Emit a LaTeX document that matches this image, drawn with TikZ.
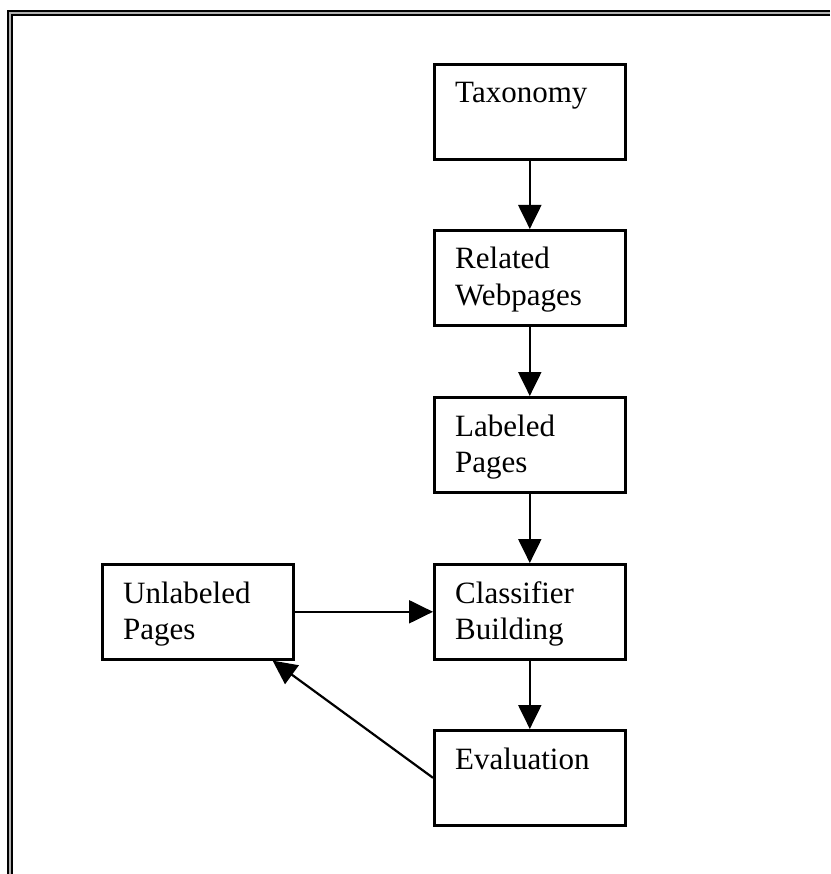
\documentclass[tikz,border=0pt]{standalone}
\usepackage{fontspec}
\setmainfont{Liberation Serif}
\usetikzlibrary{arrows.meta,calc}
% two stacked lines whose baseline is that of the first line
\newcommand{\stacklines}[2]{\vtop{\hbox{#1}\hbox{#2}}}
\begin{document}
\begin{tikzpicture}[x=1pt,y=-1pt,
  stagebox/.style={draw=black,line width=2.6pt,rectangle,inner sep=0pt,
    minimum width=191pt,minimum height=95pt,anchor=north west},
  stagetext/.style={anchor=base west,inner sep=0pt,
    font=\fontsize{31}{36}\selectfont},
  flow/.style={line width=2.2pt,-{Triangle[length=24pt,width=23pt]}},
  frameline/.style={line width=2.2pt}]
\useasboundingbox (0,0) rectangle (830,874);
% framing rule on the top and left sides
\draw[frameline,black] (830,11) -- (8,11) -- (8,874);
\draw[frameline,gray!60] (830,13) -- (10,13) -- (10,874);
\draw[frameline,black] (830,15.2) -- (12.2,15.2) -- (12.2,874);
% stages
\node[stagebox] (tax) at (433,63) {};
\node[stagebox] (rel) at (433,229) {};
\node[stagebox] (lab) at (433,396) {};
\node[stagebox] (cls) at (433,563) {};
\node[stagebox] (eva) at (433,729) {};
\node[stagebox] (unl) at (101,563) {};
\node[stagetext] (taxt) at (455,103) {Taxonomy};
\node[stagetext] (relt) at (455,269) {\stacklines{Related}{Webpages}};
\node[stagetext] (labt) at (455,436) {\stacklines{Labeled}{Pages}};
\node[stagetext] (clst) at (455,603) {\stacklines{Classifier}{Building}};
\node[stagetext] (evat) at (455,769) {Evaluation};
\node[stagetext] (unlt) at (123,603) {\stacklines{Unlabeled}{Pages}};
% connectors
\draw[flow] (tax.south) -- (rel.north);
\draw[flow] (rel.south) -- (lab.north);
\draw[flow] (lab.south) -- (cls.north);
\draw[flow] (cls.south) -- (eva.north);
\draw[flow] (unl.east) -- (cls.west);
\coordinate (retin) at ($(unl.south east)+(-22,0)$);
\draw[flow] (eva.west) -- (retin);
\end{tikzpicture}
\end{document}
